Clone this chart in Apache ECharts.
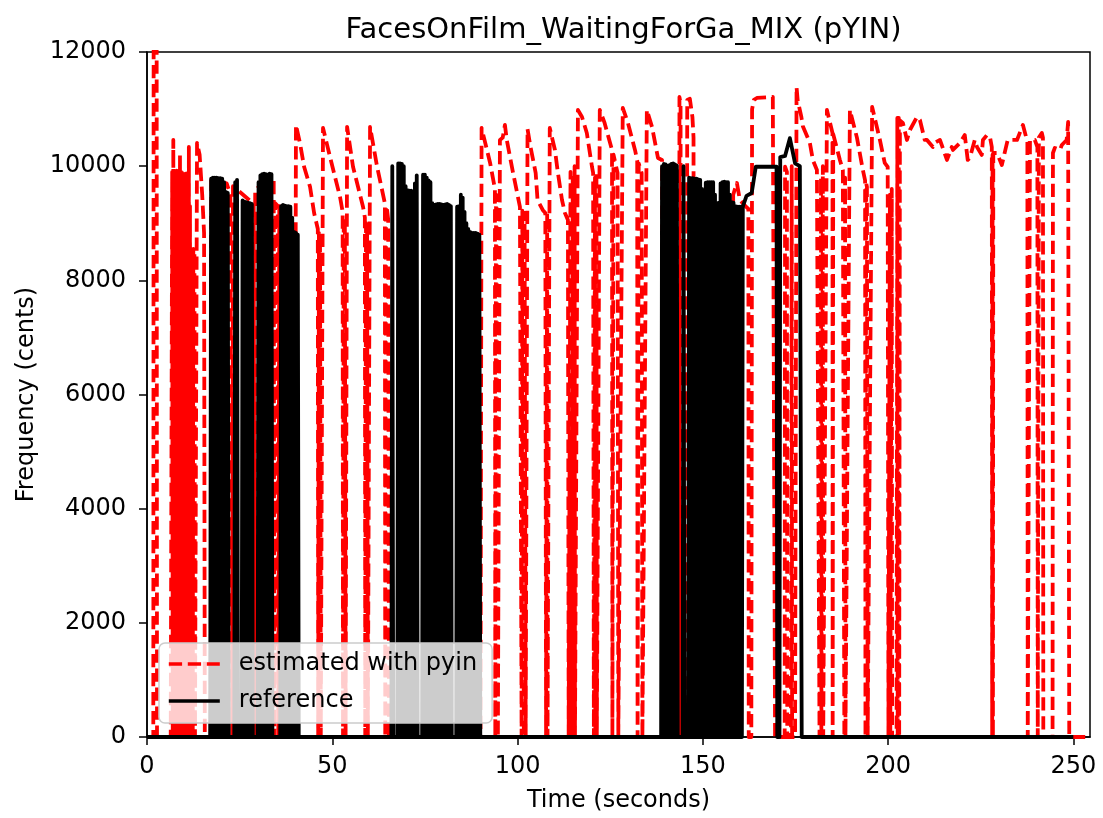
<!DOCTYPE html>
<html><head><meta charset="utf-8">
<script src="https://cdn.jsdelivr.net/npm/echarts@6/dist/echarts.min.js"></script>
<style>html,body{margin:0;padding:0;background:#fff}#c{width:1103px;height:818px}</style>
</head><body><div id="c"></div>
<script>
const titleText = 'FacesOnFilm_WaitingForGa_MIX (pYIN)';
const xTicks = [0, 50, 100, 150, 200, 250];
const yTicks = [0, 2000, 4000, 6000, 8000, 10000, 12000];
const xMax = 254.5;

// ---- estimated with pyin: [time (s), frequency (cents)] ----
const estSegA = [[0,0],[1.7,0],[1.8,13000],[2.6,13000],[2.7,0],[6.4,0]];
// dense voiced/unvoiced toggling near the start (frame levels)
const estBurstStart = 6.8, estBurstStep = 0.3;
const estBurstLevels = [9900,10459,9900,9880,9920,9900,9900,10196,9900,9880,9900,9850,9870,9900,9880,10336,9300,8600,8530,8550,8500];
const estSegB = [[13.2,0],[13.5,10407],[14.2,10200],[14.9,9500],[15.4,8830],[15.6,0],
  [17.2,0],[17.35,9750],[21.5,9700],[22.5,9500],[22.9,9480],[23.0,0],
  [23.1,0],[23.2,9650],[28.8,9340],[29.0,0],
  [29.1,0],[29.2,9600],[34.2,9750],[34.35,0],
  [34.5,0],[34.6,9350],[35.3,9300],[35.45,0],
  [35.6,0],[35.7,9300],[39.6,8900],[39.8,0],
  [39.9,0],[40.2,10722],[41.3,10400],[42.4,9990],[44.0,9640],[45.1,9180],[46.1,8900],[46.2,0],[46.35,0],[46.4,8830],[46.7,8700],[46.9,0],
  [47.1,0],[47.5,10670],[49.4,10160],[52.1,9460],[52.8,9200],[52.9,0],[53.05,0],[53.1,9100],[53.4,9060],[53.6,0],
  [53.7,0],[54.0,10690],[55.6,9990],[58.3,9290],[58.8,9100],[58.9,0],[59.05,0],[59.1,9000],[59.4,8935],[59.6,0],
  [59.8,0],[60.2,10690],[62.1,9990],[64.2,9350],[64.3,0],[64.45,0],[64.5,9300],[64.8,9230],[65.1,9060],[65.3,0]];
const estSegC = [[90.0,0],[90.3,10670],[92.6,10056],[93.9,9600],[94.0,0],[94.15,0],[94.2,9500],[94.4,9460],[94.7,0],
  [94.9,0],[95.25,10460],[96.0,10500],[96.6,10722],[97.1,10459],[98.8,9881],[100.65,9285],[101.0,9250],[101.1,0],[101.25,0],[101.3,9220],[101.6,9200],[101.7,0],[101.85,0],[101.9,9180],[102.0,9180],[102.2,0],
  [102.4,0],[102.7,10650],[103.5,10340],[104.9,9880],[105.4,9408],[106.8,9233],[107.5,9180],[107.7,0],
  [107.9,0],[108.0,9200],[108.1,0],[108.4,0],[108.7,10669],[110.1,10284],[110.9,9881],[112.0,9408],[112.8,9180],[113.6,9058],[113.8,0],
  [114.2,0],[114.3,9900],[114.5,0],[114.8,0],[114.9,9800],[115.0,0],[115.3,0],[115.4,10000],[115.5,0],
  [115.8,0],[116.3,10985],[117.4,10862],[118.7,10582],[120.1,9986],[120.4,9881],[120.6,0],
  [120.8,0],[120.9,9800],[121.0,0],[121.2,0],[121.3,9900],[121.4,0],
  [121.6,0],[122.2,10985],[123.5,10757],[125.5,10284],[125.6,0],[125.8,0],[125.9,10200],[127.0,9881],[127.2,0],
  [127.6,0],[128.4,11020],[129.8,10757],[131.7,10284],[132.3,10100],[132.4,0],[132.6,0],[132.7,10050],[133.5,9881],[133.7,0],
  [134.0,0],[134.9,10985],[136.3,10687],[137.9,10144],[139.0,10109],[139.2,0]];
const estSegD = [[143.6,0],[143.7,11212],[144.0,11100],[144.1,0],
  [145.6,0],[145.8,11160],[146.5,11180],[147.2,10862],[147.5,10500],[147.6,0],
  [158.0,0],[158.2,9500],[159.2,9706],[160.0,9408],[161.5,9300],[162.3,9250],[162.4,0],
  [163.1,0],[163.3,11000],[163.8,11160],[164.6,11195],[168.9,11212],[169.4,11212],[169.5,0],
  [172.1,0],[172.2,9990],[172.7,9900],[172.8,0],
  [173.8,0],[174.0,10000],[174.1,0],
  [174.9,0],[175.3,11387],[175.6,11160],[176.6,10862],[177.0,10700],[178.9,10407],[179.7,10109],[180.8,9933],[181.3,9900],[181.5,0],
  [181.8,0],[181.9,9800],[182.0,0],[182.3,0],[182.4,10000],[182.5,0],
  [182.6,0],[183.5,10985],[185.0,10582],[185.05,0],[185.15,0],[185.2,10560],[187.0,10109],[187.8,9933],[188.2,0],
  [188.3,0],[188.4,9800],[188.5,0],
  [188.6,0],[189.7,10985],[191.6,10500],[193.2,9933],[193.8,9750],[193.9,0],[194.05,0],[194.1,9700],[194.3,9636],[194.5,0],
  [194.8,0],[195.7,11037],[197.8,10459],[199.1,10056],[199.9,9986],[200.1,0],
  [200.4,0],[200.5,9500],[200.6,0],[200.9,0],[201.0,9600],[201.1,0],
  [202.3,0],[202.5,10844],[202.6,0],[202.8,0],[202.9,10844],[203.0,0],[203.1,0]];
const estSegE = [[203.2,10800],[204.0,10757],[204.5,10757],[205.1,10459],[205.9,10634],[207.8,10862],[208.0,10897],[208.6,10809],
  [209.9,10459],[210.5,10459],[212.1,10336],[212.6,10407],[214.0,10459],[215.9,10109],[217.2,10336],[217.5,10284],[219.4,10407],
  [220.7,10546],[221.5,10109],[222.1,10150],[223.4,10459],[224.0,10336],[225.3,10196],[225.6,10459],[226.7,10546],[227.5,10511],
  [228.0,10336],[228.1,0],[228.2,10200],[228.3,0],[228.4,10231],[229.4,10231],[230.7,10021],[231.0,10056],[232.1,10407],[232.3,10459],
  [234.8,10459],[236.4,10722],[236.9,10722],[237.6,10424],[237.7,0],[238.2,0],[238.3,10459],[239.6,10459],[240.3,10336],[240.4,0],
  [240.6,0],[240.7,10500],[241.5,10582],[241.8,10500],[241.9,0],[244.4,0],[244.5,10231],[245.0,10319],[246.4,10284],[246.9,10371],
  [248.2,10459],[248.6,10774],[248.8,10740],[248.9,0],[254.5,0]];

// ---- reference: dense toggling blocks (frame levels) + continuous tail ----
const refBurstStep = 0.5;
const refBurstStarts = [17.3, 23.8, 25.8, 30.1, 36.2, 66.2, 67.8, 74.5, 83.7, 139.0, 144.8, 146.3];
const refBurstLevels = [
  [9780,9800,9800,9800,9790,9790,9780,9720,9550,9530],
  [9720,9760],
  [9400,9380,9370,9360,9350,9340],
  [9720,9840,9860,9870,9860,9850,9870,9860],
  [9300,9320,9310,9300,9300,9290,9100,8850,8830,8800],
  [10000],
  [10050,10050,10040,10000,9650,9580,9570,9570,9560,9700,9840],
  [9850,9850,9800,9750,9720,9350,9320,9330,9340,9340,9330,9320,9330,9340,9320,9300],
  [9290,9300,9500,9450,9200,9000,8900,8850,8830,8830,8830,8820,8800],
  [10000,10040,10030,10000,10020,10040,10050,10030,10010],
  [10000],
  [9800,9790,9790,9780,9780,9770,9760,9600,9530,9710,9720,9720,9720,9720,9500,9350,9360,9700,9720,9730,9720,9720,9500,9370,9360,9300,9290,9290,9290]
];
const refTail = [[160.8,9290],[161.8,9480],[163.2,9530],[164.3,9990],[169.9,9990],[170.1,0],[170.7,0],[170.9,10160],
  [172.2,10180],[173.5,10490],[174.9,10050],[176.2,10000],[176.6,10000],[176.7,0],[250.0,0]];

function rnd(v){ return Math.round(v * 1000) / 1000; }
function burst(start, step, levels){
  const out = [[rnd(start - step / 2), 0]];
  levels.forEach((v, i) => { const t = start + i * step; out.push([rnd(t), v], [rnd(t + step / 2), 0]); });
  return out;
}

const estData = [].concat(estSegA, burst(estBurstStart, estBurstStep, estBurstLevels), estSegB, estSegC, estSegD, estSegE);
let refData = [[0, 0]];
refBurstStarts.forEach((s, k) => { refData = refData.concat(burst(s, refBurstStep, refBurstLevels[k])); });
refData = refData.concat(refTail);

const FONT = 'DejaVu Sans';
const LW = 3.8;
const chart = echarts.init(document.getElementById('c'), null, {renderer: 'canvas'});
chart.setOption({
  animation: false,
  backgroundColor: '#ffffff',
  title: {
    text: titleText, left: 618.5, textAlign: 'center', top: 11,
    textStyle: {fontFamily: FONT, fontSize: 29, fontWeight: 'normal', color: '#000'}
  },
  grid: {left: 147, right: 13, top: 52, bottom: 81, show: true, borderColor: '#000', borderWidth: 1.5, backgroundColor: 'transparent'},
  legend: {
    orient: 'vertical', left: 159, top: 643,
    itemWidth: 51, itemHeight: 14, itemGap: 13,
    padding: [9, 15, 10, 8],
    backgroundColor: 'rgba(255,255,255,0.8)', borderColor: '#cccccc', borderWidth: 1.5, borderRadius: 6,
    itemStyle: {opacity: 0},
    lineStyle: {width: 3.6},
    textStyle: {fontFamily: FONT, fontSize: 24, color: '#000', padding: [0, 0, 0, 14]},
    data: ['estimated with pyin', 'reference']
  },
  xAxis: {
    type: 'value', min: 0, max: xMax, interval: 50,
    name: 'Time (seconds)', nameLocation: 'middle', nameGap: 52,
    nameTextStyle: {fontFamily: FONT, fontSize: 24, color: '#000'},
    axisLine: {show: true, onZero: false, lineStyle: {color: '#000', width: 1.5}},
    axisTick: {show: true, length: 8, lineStyle: {color: '#000', width: 1.5}, customValues: xTicks},
    axisLabel: {fontFamily: FONT, fontSize: 24, color: '#000', margin: 18, customValues: xTicks, formatter: v => String(v)},
    splitLine: {show: false}
  },
  yAxis: {
    type: 'value', min: 0, max: 12000, interval: 2000,
    name: 'Frequency (cents)', nameLocation: 'middle', nameGap: 108,
    nameTextStyle: {fontFamily: FONT, fontSize: 24, color: '#000'},
    axisLine: {show: true, onZero: false, lineStyle: {color: '#000', width: 1.5}},
    axisTick: {show: true, length: 8, lineStyle: {color: '#000', width: 1.5}, customValues: yTicks},
    axisLabel: {fontFamily: FONT, fontSize: 24, color: '#000', margin: 21, customValues: yTicks, formatter: v => String(v)},
    splitLine: {show: false}
  },
  series: [
    {name: 'estimated with pyin', type: 'line', data: estData, symbol: 'none', clip: true,
     lineStyle: {color: '#ff0000', width: LW, type: [13.3, 5.7], join: 'round', cap: 'butt'},
     itemStyle: {color: '#ff0000'}},
    {name: 'reference', type: 'line', data: refData, symbol: 'none', clip: true,
     lineStyle: {color: '#000000', width: LW, type: 'solid', join: 'round'},
     itemStyle: {color: '#000000'}}
  ]
});
</script>
</body></html>
